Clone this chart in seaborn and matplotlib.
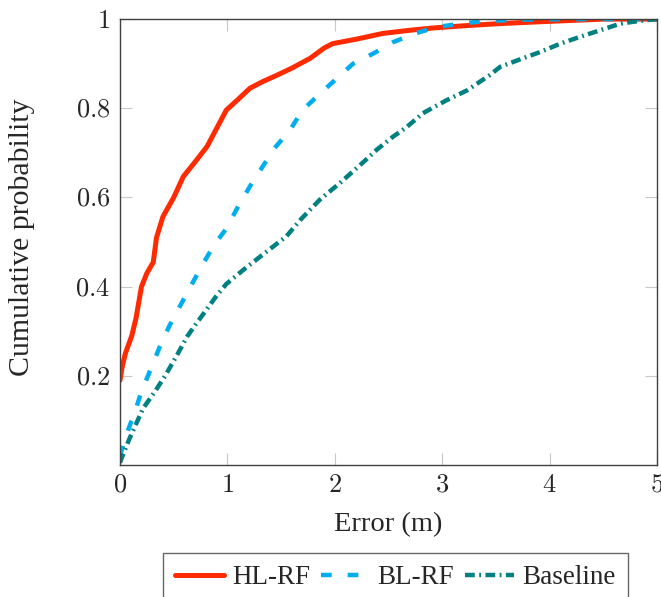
import numpy as np
import pandas as pd
import seaborn as sns
import matplotlib.pyplot as plt

# values
hl_x = [0, 0.02, 0.05, 0.08, 0.11, 0.15, 0.2, 0.25, 0.31, 0.34, 0.4, 0.5, 0.59, 0.7, 0.81, 0.9,
        0.99, 1.1, 1.21, 1.33, 1.46, 1.6, 1.77, 1.9, 1.98, 2.2, 2.45, 2.7, 2.91, 3.2, 3.54, 4.0, 4.5, 5.0]
hl_y = [0.19, 0.22, 0.25, 0.27, 0.29, 0.33, 0.40, 0.43, 0.455, 0.51, 0.557, 0.60, 0.647, 0.68, 0.714, 0.755,
        0.796, 0.82, 0.845, 0.86, 0.874, 0.89, 0.912, 0.935, 0.945, 0.955, 0.968, 0.975, 0.98, 0.985, 0.99, 0.995, 1.0, 1.0]

bl_x = [0, 0.047, 0.14, 0.2, 0.295, 0.37, 0.46, 0.56, 0.67, 0.77, 0.88, 0.99, 1.1, 1.21, 1.33, 1.44,
        1.58, 1.7, 1.85, 2.0, 2.17, 2.36, 2.54, 2.75, 2.95, 3.17, 3.42, 3.8, 4.2, 5.0]
bl_y = [0.02, 0.06, 0.12, 0.165, 0.22, 0.265, 0.312, 0.357, 0.406, 0.45, 0.495, 0.53, 0.58, 0.625, 0.67, 0.711,
        0.75, 0.796, 0.83, 0.863, 0.90, 0.923, 0.948, 0.968, 0.982, 0.99, 0.996, 0.999, 1.0, 1.0]

base_x = [0, 0.016, 0.09, 0.215, 0.326, 0.42, 0.53, 0.63, 0.71, 0.81, 0.9, 0.99, 1.15, 1.33, 1.55, 1.68,
          1.86, 2.05, 2.26, 2.39, 2.54, 2.67, 2.82, 3.04, 3.23, 3.44, 3.54, 3.75, 3.91, 4.1, 4.28, 4.47, 4.66, 4.84, 5.0]
base_y = [0.005, 0.016, 0.06, 0.127, 0.165, 0.2, 0.246, 0.29, 0.317, 0.35, 0.38, 0.406, 0.438, 0.472, 0.513, 0.55,
          0.595, 0.633, 0.678, 0.707, 0.736, 0.758, 0.789, 0.818, 0.84, 0.874, 0.893, 0.912, 0.926, 0.945, 0.96, 0.975, 0.99, 0.996, 1.0]

x_ticks = [0, 1, 2, 3, 4, 5]
x_tick_labels = ["$0$", "$1$", "$2$", "$3$", "$4$", "$5$"]
y_ticks = [0.2, 0.4, 0.6, 0.8, 1.0]
y_tick_labels = ["$0.2$", "$0.4$", "$0.6$", "$0.8$", "$1$"]

sns.set_style("white")
plt.rcParams['font.family'] = ['Liberation Serif', 'DejaVu Serif']
plt.rcParams['mathtext.fontset'] = 'cm'
plt.rcParams['font.size'] = 19

fig = plt.figure(figsize=(6.61, 5.97), dpi=100)
ax = fig.add_axes([0.1815, 0.221, 0.8125, 0.747])

sns.lineplot(x=hl_x, y=hl_y, ax=ax, color="#ff2a00", lw=3.6, label="HL-RF", sort=False)
sns.lineplot(x=bl_x, y=bl_y, ax=ax, color="#00aeef", lw=3.2, label="BL-RF", sort=False,
             linestyle=(0, (2.4, 3.6)))
sns.lineplot(x=base_x, y=base_y, ax=ax, color="#008080", lw=3.2, label="Baseline", sort=False,
             linestyle=(0, (2.2, 1.0, 0.4, 1.0)))

ax.set_xlim(0, 5)
ax.set_ylim(0, 1)
ax.set_xticks(x_ticks)
ax.set_xticklabels(x_tick_labels)
ax.set_yticks(y_ticks)
ax.set_yticklabels(y_tick_labels)
ax.tick_params(direction="in", length=8.5, width=0.8, color="#c8c8c8",
               top=True, right=True, bottom=True, left=True, pad=7, labelsize=19)
for s in ax.spines.values():
    s.set_color("#404040")
    s.set_linewidth(1.0)

ax.set_xlabel("Error (m)", fontsize=20.5, labelpad=11)
ax.set_ylabel("Cumulative probability", fontsize=21.5)
ax.yaxis.set_label_coords(-0.158, 0.51)

handles, labels = ax.get_legend_handles_labels()
ax.get_legend().remove()
leg = fig.legend(handles, labels, loc="upper left", bbox_to_anchor=(163 / 661, 1 - 553 / 597), ncol=3,
                 frameon=True, fancybox=False, fontsize=19.5, handlelength=1.8,
                 columnspacing=0.4, handletextpad=0.3, borderpad=0.45, borderaxespad=0)
leg.get_frame().set_edgecolor("#404040")
leg.get_frame().set_linewidth(1.0)

fig.savefig("out.png", dpi=100)
